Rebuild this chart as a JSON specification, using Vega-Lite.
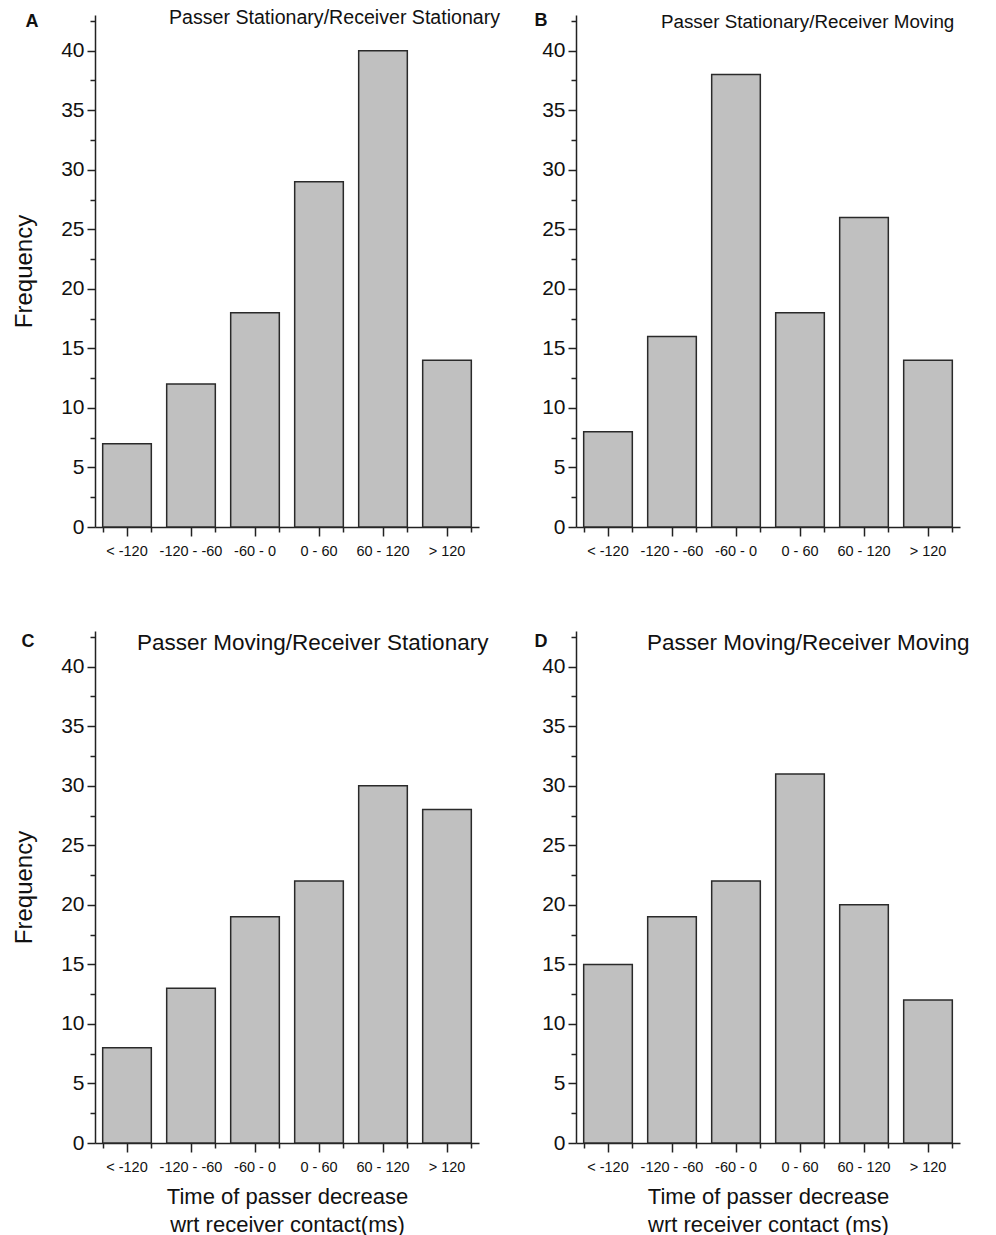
{
  "$schema": "https://vega.github.io/schema/vega-lite/v6.json",
  "padding": {"left": 12, "top": 8, "right": 0, "bottom": 0},
  "background": "white",
  "config": {
    "font": "Liberation Sans",
    "view": {"stroke": null},
    "axis": {"grid": false, "domainColor": "#222", "tickColor": "#222", "domainWidth": 1.5, "tickWidth": 1.5, "labelColor": "#111", "titleColor": "#111", "titleFontWeight": "normal"},
    "title": {"fontWeight": "normal", "color": "#111"}
  },
  "datasets": {
    "d": [
      {"panel": "A", "bin": "< -120", "freq": 7},
      {"panel": "A", "bin": "-120 - -60", "freq": 12},
      {"panel": "A", "bin": "-60 - 0", "freq": 18},
      {"panel": "A", "bin": "0 - 60", "freq": 29},
      {"panel": "A", "bin": "60 - 120", "freq": 40},
      {"panel": "A", "bin": "> 120", "freq": 14},
      {"panel": "B", "bin": "< -120", "freq": 8},
      {"panel": "B", "bin": "-120 - -60", "freq": 16},
      {"panel": "B", "bin": "-60 - 0", "freq": 38},
      {"panel": "B", "bin": "0 - 60", "freq": 18},
      {"panel": "B", "bin": "60 - 120", "freq": 26},
      {"panel": "B", "bin": "> 120", "freq": 14},
      {"panel": "C", "bin": "< -120", "freq": 8},
      {"panel": "C", "bin": "-120 - -60", "freq": 13},
      {"panel": "C", "bin": "-60 - 0", "freq": 19},
      {"panel": "C", "bin": "0 - 60", "freq": 22},
      {"panel": "C", "bin": "60 - 120", "freq": 30},
      {"panel": "C", "bin": "> 120", "freq": 28},
      {"panel": "D", "bin": "< -120", "freq": 15},
      {"panel": "D", "bin": "-120 - -60", "freq": 19},
      {"panel": "D", "bin": "-60 - 0", "freq": 22},
      {"panel": "D", "bin": "0 - 60", "freq": 31},
      {"panel": "D", "bin": "60 - 120", "freq": 20},
      {"panel": "D", "bin": "> 120", "freq": 12}
    ]
  },
  "columns": 2,
  "spacing": {"row": 104, "column": 97},
  "bounds": "flush",
  "concat": [
    {
      "width": 384, "height": 512,
      "data": {"name": "d"},
      "transform": [{"filter": "datum.panel == 'A'"}],
      "title": {"text": "Passer Stationary/Receiver Stationary", "anchor": "start", "frame": "group", "dx": 74, "fontSize": 19.6, "offset": -32, "baseline": "alphabetic"},
      "layer": [
        {
          "mark": {"type": "bar", "fill": "#c0c0c0", "stroke": "#2a2a2a", "strokeWidth": 1.5},
          "encoding": {
            "x": {"field": "bin", "type": "nominal", "sort": ["< -120", "-120 - -60", "-60 - 0", "0 - 60", "60 - 120", "> 120"], "scale": {"paddingInner": 0.24, "paddingOuter": 0.12},
                  "axis": {"title": null, "labelAngle": 0, "labelFontSize": 14.5, "tickSize": 9, "labelPadding": 8, "orient": "bottom"}},
            "y": {"field": "freq", "type": "quantitative", "scale": {"domain": [0, 43], "nice": false, "zero": true},
                  "axis": {"title": "Frequency", "titleFontSize": 24, "titlePadding": 24, "labelFontSize": 21, "values": [0, 5, 10, 15, 20, 25, 30, 35, 40], "tickSize": 8, "labelPadding": 3, "orient": "left"}}
          }
        },
        {
          "mark": {"type": "bar", "opacity": 0},
          "encoding": {
            "x": {"field": "bin", "type": "nominal", "sort": ["< -120", "-120 - -60", "-60 - 0", "0 - 60", "60 - 120", "> 120"],
                  "axis": {"title": null, "labels": false, "domain": false, "tickBand": "extent", "tickSize": 5, "orient": "bottom"}},
            "y": {"field": "freq", "type": "quantitative",
                  "axis": {"title": "A", "titleAngle": 0, "titleFontWeight": "bold", "titleFontSize": 18, "titleX": -70, "titleY": 11, "titleAlign": "left", "titleBaseline": "alphabetic", "labels": false, "domain": false, "values": [2.5, 7.5, 12.5, 17.5, 22.5, 27.5, 32.5, 37.5, 42.5], "tickSize": 5, "orient": "left"}}
          }
        }
      ],
      "resolve": {"axis": {"x": "independent", "y": "independent"}}
    },
    {
      "width": 384, "height": 512,
      "data": {"name": "d"},
      "transform": [{"filter": "datum.panel == 'B'"}],
      "title": {"text": "Passer Stationary/Receiver Moving", "anchor": "start", "frame": "group", "dx": 85, "fontSize": 18.8, "offset": -36, "baseline": "alphabetic"},
      "layer": [
        {
          "mark": {"type": "bar", "fill": "#c0c0c0", "stroke": "#2a2a2a", "strokeWidth": 1.5},
          "encoding": {
            "x": {"field": "bin", "type": "nominal", "sort": ["< -120", "-120 - -60", "-60 - 0", "0 - 60", "60 - 120", "> 120"], "scale": {"paddingInner": 0.24, "paddingOuter": 0.12},
                  "axis": {"title": null, "labelAngle": 0, "labelFontSize": 14.5, "tickSize": 9, "labelPadding": 8, "orient": "bottom"}},
            "y": {"field": "freq", "type": "quantitative", "scale": {"domain": [0, 43], "nice": false, "zero": true},
                  "axis": {"title": null, "labelFontSize": 21, "values": [0, 5, 10, 15, 20, 25, 30, 35, 40], "tickSize": 8, "labelPadding": 3, "orient": "left"}}
          }
        },
        {
          "mark": {"type": "bar", "opacity": 0},
          "encoding": {
            "x": {"field": "bin", "type": "nominal", "sort": ["< -120", "-120 - -60", "-60 - 0", "0 - 60", "60 - 120", "> 120"],
                  "axis": {"title": null, "labels": false, "domain": false, "tickBand": "extent", "tickSize": 5, "orient": "bottom"}},
            "y": {"field": "freq", "type": "quantitative",
                  "axis": {"title": "B", "titleAngle": 0, "titleFontWeight": "bold", "titleFontSize": 18, "titleX": -42, "titleY": 10, "titleAlign": "left", "titleBaseline": "alphabetic", "labels": false, "domain": false, "values": [2.5, 7.5, 12.5, 17.5, 22.5, 27.5, 32.5, 37.5, 42.5], "tickSize": 5, "orient": "left"}}
          }
        }
      ],
      "resolve": {"axis": {"x": "independent", "y": "independent"}}
    },
    {
      "width": 384, "height": 512,
      "data": {"name": "d"},
      "transform": [{"filter": "datum.panel == 'C'"}],
      "title": {"text": "Passer Moving/Receiver Stationary", "anchor": "start", "frame": "group", "dx": 42, "fontSize": 22.5, "offset": -41, "baseline": "alphabetic"},
      "layer": [
        {
          "mark": {"type": "bar", "fill": "#c0c0c0", "stroke": "#2a2a2a", "strokeWidth": 1.5},
          "encoding": {
            "x": {"field": "bin", "type": "nominal", "sort": ["< -120", "-120 - -60", "-60 - 0", "0 - 60", "60 - 120", "> 120"], "scale": {"paddingInner": 0.24, "paddingOuter": 0.12},
                  "axis": {"title": ["Time of passer decrease", "wrt receiver contact(ms)"], "titleFontSize": 22, "titleLineHeight": 28, "titlePadding": 13, "labelAngle": 0, "labelFontSize": 14.5, "tickSize": 9, "labelPadding": 8, "orient": "bottom"}},
            "y": {"field": "freq", "type": "quantitative", "scale": {"domain": [0, 43], "nice": false, "zero": true},
                  "axis": {"title": "Frequency", "titleFontSize": 24, "titlePadding": 24, "labelFontSize": 21, "values": [0, 5, 10, 15, 20, 25, 30, 35, 40], "tickSize": 8, "labelPadding": 3, "orient": "left"}}
          }
        },
        {
          "mark": {"type": "bar", "opacity": 0},
          "encoding": {
            "x": {"field": "bin", "type": "nominal", "sort": ["< -120", "-120 - -60", "-60 - 0", "0 - 60", "60 - 120", "> 120"],
                  "axis": {"title": null, "labels": false, "domain": false, "tickBand": "extent", "tickSize": 5, "orient": "bottom"}},
            "y": {"field": "freq", "type": "quantitative",
                  "axis": {"title": "C", "titleAngle": 0, "titleFontWeight": "bold", "titleFontSize": 18, "titleX": -74, "titleY": 15, "titleAlign": "left", "titleBaseline": "alphabetic", "labels": false, "domain": false, "values": [2.5, 7.5, 12.5, 17.5, 22.5, 27.5, 32.5, 37.5, 42.5], "tickSize": 5, "orient": "left"}}
          }
        }
      ],
      "resolve": {"axis": {"x": "independent", "y": "independent"}}
    },
    {
      "width": 384, "height": 512,
      "data": {"name": "d"},
      "transform": [{"filter": "datum.panel == 'D'"}],
      "title": {"text": "Passer Moving/Receiver Moving", "anchor": "start", "frame": "group", "dx": 71, "fontSize": 22.5, "offset": -41, "baseline": "alphabetic"},
      "layer": [
        {
          "mark": {"type": "bar", "fill": "#c0c0c0", "stroke": "#2a2a2a", "strokeWidth": 1.5},
          "encoding": {
            "x": {"field": "bin", "type": "nominal", "sort": ["< -120", "-120 - -60", "-60 - 0", "0 - 60", "60 - 120", "> 120"], "scale": {"paddingInner": 0.24, "paddingOuter": 0.12},
                  "axis": {"title": ["Time of passer decrease", "wrt receiver contact (ms)"], "titleFontSize": 22, "titleLineHeight": 28, "titlePadding": 13, "labelAngle": 0, "labelFontSize": 14.5, "tickSize": 9, "labelPadding": 8, "orient": "bottom"}},
            "y": {"field": "freq", "type": "quantitative", "scale": {"domain": [0, 43], "nice": false, "zero": true},
                  "axis": {"title": null, "labelFontSize": 21, "values": [0, 5, 10, 15, 20, 25, 30, 35, 40], "tickSize": 8, "labelPadding": 3, "orient": "left"}}
          }
        },
        {
          "mark": {"type": "bar", "opacity": 0},
          "encoding": {
            "x": {"field": "bin", "type": "nominal", "sort": ["< -120", "-120 - -60", "-60 - 0", "0 - 60", "60 - 120", "> 120"],
                  "axis": {"title": null, "labels": false, "domain": false, "tickBand": "extent", "tickSize": 5, "orient": "bottom"}},
            "y": {"field": "freq", "type": "quantitative",
                  "axis": {"title": "D", "titleAngle": 0, "titleFontWeight": "bold", "titleFontSize": 18, "titleX": -42, "titleY": 15, "titleAlign": "left", "titleBaseline": "alphabetic", "labels": false, "domain": false, "values": [2.5, 7.5, 12.5, 17.5, 22.5, 27.5, 32.5, 37.5, 42.5], "tickSize": 5, "orient": "left"}}
          }
        }
      ],
      "resolve": {"axis": {"x": "independent", "y": "independent"}}
    }
  ]
}
